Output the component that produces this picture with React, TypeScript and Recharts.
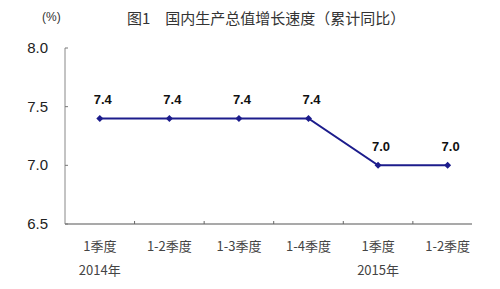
import React from 'react';
import { LineChart, Line, XAxis, YAxis } from 'recharts';

if (typeof document !== 'undefined') {
  document.body.style.margin = '0';
}

const categories = ['1季度', '1-2季度', '1-3季度', '1-4季度', '1季度', '1-2季度'];
const yearLabels = ['2014年', '', '', '', '2015年', ''];
const growth = [7.4, 7.4, 7.4, 7.4, 7.0, 7.0];
const yTicks = [6.5, 7.0, 7.5, 8.0];
const xTicks = [0.5, 1, 1.5, 2, 2.5, 3, 3.5, 4, 4.5, 5, 5.5];
const title = '图1　国内生产总值增长速度（累计同比）';
const unit = '(%)';

const data = categories.map((c, i) => ({ x: i + 0.5, name: c, value: growth[i] }));

const CJK = '"SimSun", "Noto Sans CJK SC", sans-serif';
const ARIAL = '"Liberation Sans", Arial, sans-serif';
const LINE_COLOR = '#1c1c8c';

const XTick = (props: any) => {
  const { x, y, payload } = props;
  const v = payload.value as number;
  if (Number.isInteger(v)) {
    return <line x1={x} y1={y} x2={x} y2={y - 3} stroke="#666" strokeWidth={1} />;
  }
  const i = Math.round(v - 0.5);
  return (
    <g>
      <text x={x} y={y + 27} textAnchor="middle" fontSize={13} fill="#444" fontFamily={CJK}>
        {categories[i]}
      </text>
      {yearLabels[i] ? (
        <text x={x} y={y + 51} textAnchor="middle" fontSize={13} fill="#444" fontFamily={CJK}>
          {yearLabels[i]}
        </text>
      ) : null}
    </g>
  );
};

const YTick = (props: any) => {
  const { x, y, payload } = props;
  return (
    <g>
      <line x1={x} y1={y} x2={x + 3} y2={y} stroke="#777" strokeWidth={1} />
      <text x={x - 17} y={y + 5} textAnchor="end" fontSize={15} fill="#222" fontFamily={ARIAL}>
        {(payload.value as number).toFixed(1)}
      </text>
    </g>
  );
};

const Diamond = (props: any) => {
  const { cx, cy } = props;
  if (cx == null || cy == null) return null;
  const r = 3.5;
  return (
    <path
      d={`M${cx},${cy - r} L${cx + r},${cy} L${cx},${cy + r} L${cx - r},${cy} Z`}
      fill={LINE_COLOR}
      stroke="none"
    />
  );
};

const ValueLabel = (props: any) => {
  const { x, y, value } = props;
  return (
    <text x={x + 3} y={y - 14} textAnchor="middle" fontSize={13} fontWeight="bold" fill="#111" fontFamily={ARIAL}>
      {(value as number).toFixed(1)}
    </text>
  );
};

export default function App() {
  return (
    <div style={{ position: 'relative', width: 500, height: 289, background: '#fff' }}>
      <div
        style={{
          position: 'absolute',
          left: 42,
          top: 10,
          fontFamily: ARIAL,
          fontSize: 12,
          color: '#333',
        }}
      >
        {unit}
      </div>
      <div
        style={{
          position: 'absolute',
          left: 127,
          top: 7,
          fontFamily: CJK,
          fontSize: 15,
          color: '#333',
          whiteSpace: 'nowrap',
        }}
      >
        {title}
      </div>
      <LineChart
        width={500}
        height={289}
        data={data}
        margin={{ top: 48, right: 28, bottom: 64, left: 0 }}
      >
        <XAxis
          dataKey="x"
          type="number"
          domain={[0, 5.85]}
          ticks={xTicks}
          interval={0}
          height={1}
          tickSize={0}
          tickMargin={0}
          tickLine={false}
          axisLine={{ stroke: '#555', strokeWidth: 1.2 }}
          tick={<XTick />}
          allowDataOverflow
        />
        <YAxis
          type="number"
          domain={[6.5, 8]}
          ticks={yTicks}
          interval={0}
          width={65}
          tickSize={0}
          tickMargin={0}
          tickLine={false}
          axisLine={{ stroke: '#888', strokeWidth: 1 }}
          tick={<YTick />}
        />
        <Line
          type="linear"
          dataKey="value"
          stroke={LINE_COLOR}
          strokeWidth={2}
          dot={<Diamond />}
          activeDot={false}
          label={<ValueLabel />}
          isAnimationActive={false}
        />
      </LineChart>
    </div>
  );
}
